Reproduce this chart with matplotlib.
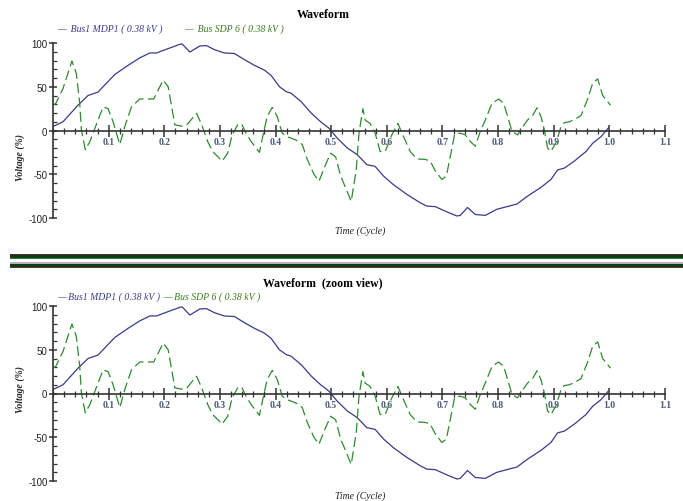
import matplotlib
matplotlib.use("Agg")
import matplotlib.pyplot as plt
from matplotlib.ticker import MultipleLocator, FormatStrFormatter
from matplotlib.patches import Rectangle

plt.rcParams["axes.unicode_minus"] = False

# ---------------- data ----------------
blue_label = "Bus1 MDP1 ( 0.38 kV )"
green_label = "Bus SDP 6 ( 0.38 kV )"

blue_t = [0, 0.018, 0.045, 0.063, 0.081, 0.096, 0.111, 0.135, 0.156, 0.174, 0.186,
          0.207, 0.228, 0.232, 0.246, 0.264, 0.276, 0.29, 0.308, 0.326, 0.344, 0.362,
          0.38, 0.392, 0.407, 0.419, 0.428, 0.446, 0.464, 0.481, 0.496, 0.511, 0.529,
          0.547, 0.564, 0.579, 0.594, 0.612, 0.636, 0.66, 0.672, 0.687, 0.708, 0.726,
          0.732, 0.745, 0.759, 0.777, 0.798, 0.816, 0.834, 0.853, 0.877, 0.895, 0.907,
          0.919, 0.937, 0.958, 0.97, 0.985, 0.998]
blue_v = [4.5, 10, 29, 40, 44, 54, 64, 74.5, 83, 88.6, 88.6,
          93.6, 98.5, 99, 89.7, 96.6, 97, 92.4, 88.6, 88, 81, 74.5,
          69, 63, 50, 44.5, 42.6, 33, 20, 10, 2.7, -8.8, -20,
          -27.7, -39, -41, -52, -62, -73, -82.6, -86.4, -87, -93, -97.7,
          -97, -88, -96, -97, -90, -87, -84, -75, -65, -56, -45,
          -43, -35, -24, -14.6, -7, 2.7]

green_t = [0, 0.005, 0.018, 0.034, 0.042, 0.048, 0.051, 0.058, 0.066, 0.081, 0.090,
           0.099, 0.108, 0.12, 0.130, 0.141, 0.156, 0.171, 0.181, 0.198, 0.207, 0.219,
           0.231, 0.24, 0.258, 0.267, 0.278, 0.287, 0.304, 0.314, 0.322, 0.332, 0.339,
           0.347, 0.356, 0.371, 0.379, 0.385, 0.394, 0.403, 0.412, 0.421, 0.437, 0.448,
           0.457, 0.469, 0.478, 0.49, 0.499, 0.508, 0.517, 0.527, 0.536, 0.545, 0.55,
           0.557, 0.561, 0.57, 0.579, 0.588, 0.597, 0.609, 0.62, 0.63, 0.642, 0.654,
           0.669, 0.678, 0.687, 0.699, 0.707, 0.714, 0.722, 0.732, 0.741, 0.75, 0.759,
           0.768, 0.777, 0.789, 0.801, 0.81, 0.819, 0.825, 0.835, 0.841, 0.853, 0.862,
           0.870, 0.877, 0.883, 0.889, 0.895, 0.904, 0.913, 0.919, 0.928, 0.937, 0.949,
           0.961, 0.97, 0.979, 0.988, 1.002]
green_v = [29, 31, 48, 79.5, 65, 31, 1, -22, -13, 12, 27,
           25, 10, -16, 6.5, 27, 36, 36, 36, 57.6, 50, 6.5,
           5, 6, 19.7, 7, -12.5, -24, -35, -26, -5, 6.5, 7.5,
           -3, -12.5, -25, -1, 16, 26.5, 16, -3, -7, -11, -16,
           -33, -50, -58, -39, -26, -30, -52, -67, -81, -45, -3,
           25, 12, 8, -3, -24, -24, -5, 8, -7, -24, -32.5,
           -33, -35, -46, -56, -52, -30, -4, -3, -5, -12.5, -18,
           -1, 12, 31, 36, 31, 12, -1, -5, 1, 12, 17,
           26, 16, 1, -20, -24, -14, 4, 9, 10, 12.5, 17,
           36, 54, 59, 40, 29]

titles = ["Waveform", "Waveform  (zoom view)"]
x_label = "Time (Cycle)"
y_label = "Voltage (%)"

# ---------------- style ----------------
W, H = 683, 502
BLUE = "#3a3a88"
GREEN = "#2f8a2f"
GREEN_TXT = "#3a7a1a"
SERIF = "Liberation Serif"

fig = plt.figure(figsize=(W / 100, H / 100), dpi=100)
fig.patch.set_facecolor("white")

def fx(px):
    return px / W

def fy(py):
    return 1 - py / H

# axes boxes in pixel coordinates: (left, top, right, bottom)
boxes = [(53, 44, 665, 219), (53, 307, 665, 482)]
title_y = [15, 283]
legend_y = [29, 297]
xlabel_y = [231, 496]
ylabel_y = [158, 390]

for i, (l, t, r, b) in enumerate(boxes):
    ax = fig.add_axes([fx(l), fy(b), fx(r) - fx(l), fy(t) - fy(b)])
    ax.plot(blue_t, blue_v, color=BLUE, lw=0.9)
    ax.plot(green_t, green_v, color=GREEN, lw=0.9, dashes=(8, 3.5))
    ax.set_xlim(0, 1.1)
    ax.set_ylim(-100, 100)
    for s in ["top", "right"]:
        ax.spines[s].set_visible(False)
    ax.spines["bottom"].set_position(("data", 0))
    ax.spines["bottom"].set_color("#333333")
    ax.spines["left"].set_color("#333333")
    ax.spines["bottom"].set_linewidth(1.2)
    ax.spines["left"].set_linewidth(1.2)

    ax.xaxis.set_major_locator(MultipleLocator(0.1))
    ax.xaxis.set_minor_locator(MultipleLocator(0.02))
    ax.xaxis.set_major_formatter(FormatStrFormatter("%.1f"))
    ax.yaxis.set_major_locator(MultipleLocator(50))
    ax.yaxis.set_minor_locator(MultipleLocator(10))

    ax.tick_params(axis="x", which="major", direction="inout", length=8, width=1.1,
                   color="#333333", pad=1, labelsize=7, labelcolor="#4a5a7a")
    ax.tick_params(axis="x", which="minor", direction="inout", length=5, width=0.9,
                   color="#333333")
    ax.tick_params(axis="y", which="major", direction="inout", length=6, width=1.1,
                   color="#333333", pad=1, labelsize=7, labelcolor="#222222")
    ax.tick_params(axis="y", which="minor", direction="in", length=3, width=0.9,
                   color="#333333")
    ticks = ax.get_xticks()
    ax.set_xticks([tk for tk in ticks if 0.05 < tk < 1.15])
    for lab in ax.get_xticklabels():
        lab.set_fontfamily(SERIF)
        lab.set_fontweight("bold")
    for lab in ax.get_yticklabels():
        lab.set_fontfamily("Liberation Sans")
    ax.set_facecolor("none")

    fig.text(fx(323), fy(title_y[i]), titles[i], ha="center", va="center",
             fontsize=8.5, fontweight="bold", family=SERIF)
    fig.text(fx(360), fy(xlabel_y[i]), x_label, ha="center", va="center",
             fontsize=7, style="italic", family=SERIF, color="#222222")
    fig.text(fx(20), fy(ylabel_y[i]), y_label, ha="center", va="center",
             fontsize=7, style="italic", fontweight="bold", family=SERIF,
             rotation=90, color="#222222")

# legends
fig.text(fx(57), fy(legend_y[0]), "\u2014  " + blue_label, ha="left", va="center",
         fontsize=7, style="italic", family=SERIF, color=BLUE)
fig.text(fx(184), fy(legend_y[0]), "\u2014  " + green_label, ha="left", va="center",
         fontsize=7, style="italic", family=SERIF, color=GREEN_TXT)
fig.text(fx(57), fy(legend_y[1]), "\u2014 " + blue_label, ha="left", va="center",
         fontsize=7, style="italic", family=SERIF, color=BLUE)
fig.text(fx(163), fy(legend_y[1]), "\u2014 " + green_label, ha="left", va="center",
         fontsize=7, style="italic", family=SERIF, color=GREEN_TXT)

# separator bars
bands = [(255, 256, "#5a2a2a"), (256, 259, "#0f3d12"), (259, 260, "#2e7d32"),
         (260, 263, "#ffffff"), (263, 264.5, "#b8b0c0"), (264.5, 268, "#0f3d12"),
         (268, 269, "#6a3030")]
for y0, y1, c in bands:
    fig.add_artist(Rectangle((fx(10), fy(y1)), fx(683) - fx(10), fy(y0) - fy(y1),
                             transform=fig.transFigure, facecolor=c, edgecolor="none"))

fig.savefig("out.png", dpi=100)
